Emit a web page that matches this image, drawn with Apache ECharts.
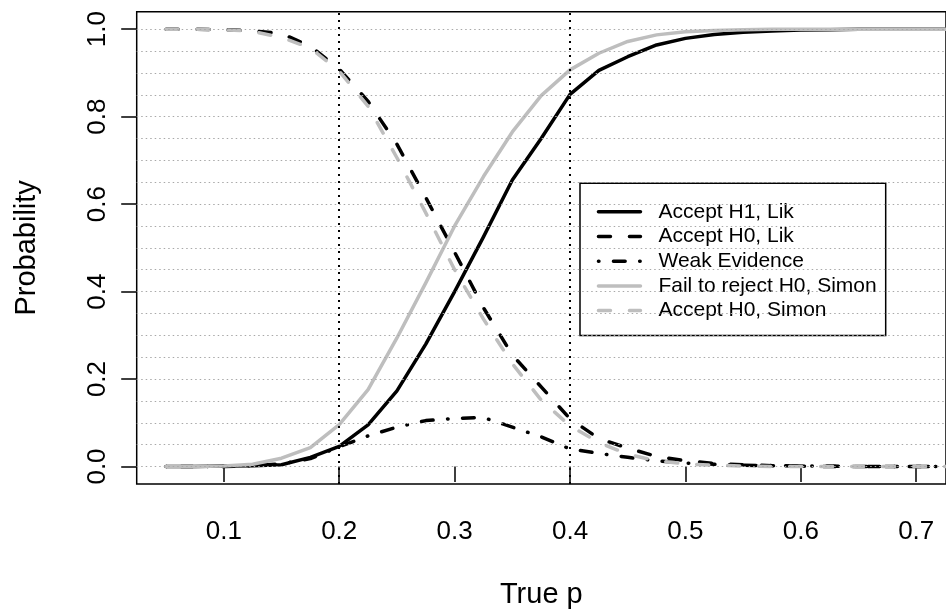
<!DOCTYPE html>
<html>
<head>
<meta charset="utf-8">
<title>Operating characteristics</title>
<script src="https://cdn.jsdelivr.net/npm/echarts@6/dist/echarts.min.js"></script>
<style>
  html, body { margin: 0; padding: 0; background: #fff; }
  #main { width: 946px; height: 614px; }
</style>
</head>
<body>
<div id="main"></div>
<script>
// true p values (every 0.025)
const pValues = [0.05, 0.075, 0.1, 0.125, 0.15, 0.175, 0.2, 0.225, 0.25, 0.275, 0.3, 0.325, 0.35, 0.375,
  0.4, 0.425, 0.45, 0.475, 0.5, 0.525, 0.55, 0.575, 0.6, 0.625, 0.65, 0.675, 0.7, 0.725, 0.75]

const acceptH1Lik = [0, 0, 0.001, 0.002, 0.004, 0.021, 0.046, 0.095, 0.173, 0.28, 0.4, 0.525, 0.655, 0.75,
  0.851, 0.906, 0.937, 0.964, 0.979, 0.988, 0.993, 0.996, 0.998, 0.999, 1, 1, 1, 1, 1]
const acceptH0Lik = [1, 1, 0.999, 0.996, 0.99, 0.961, 0.909, 0.835, 0.737, 0.615, 0.49, 0.363, 0.255, 0.182,
  0.109, 0.064, 0.042, 0.023, 0.013, 0.007, 0.004, 0.002, 0.001, 0, 0, 0, 0, 0, 0]
const weakEvidence = [0, 0, 0, 0.002, 0.006, 0.018, 0.045, 0.07, 0.09, 0.105, 0.11, 0.112, 0.09, 0.068,
  0.04, 0.03, 0.021, 0.013, 0.008, 0.005, 0.003, 0.002, 0.001, 0.001, 0, 0, 0, 0, 0]
const failRejectSimon = [0, 0, 0.001, 0.005, 0.019, 0.043, 0.096, 0.176, 0.294, 0.42, 0.55, 0.663, 0.765, 0.848,
  0.907, 0.945, 0.972, 0.987, 0.994, 0.997, 0.999, 1, 1, 1, 1, 1, 1, 1, 1]
const acceptH0Simon = [1, 1, 0.999, 0.995, 0.981, 0.957, 0.904, 0.824, 0.706, 0.58, 0.45, 0.337, 0.235, 0.152,
  0.093, 0.055, 0.028, 0.013, 0.006, 0.003, 0.001, 0, 0, 0, 0, 0, 0, 0, 0]

const xTicks = [0.1, 0.2, 0.3, 0.4, 0.5, 0.6, 0.7]
const yTicks = [0, 0.2, 0.4, 0.6, 0.8, 1.0]
const gridLevels = [0, 0.05, 0.1, 0.15, 0.2, 0.25, 0.3, 0.35, 0.4, 0.45, 0.5, 0.55, 0.6, 0.65, 0.7, 0.75,
  0.8, 0.85, 0.9, 0.95, 1.0]
const refLines = [0.2, 0.4]

const seriesNames = ['Accept H1, Lik', 'Accept H0, Lik', 'Weak Evidence', 'Fail to reject H0, Simon', 'Accept H0, Simon']

const font = '"Liberation Sans", Arial, Helvetica, sans-serif'
const grey = '#bebebe'

function pairs(ys) {
  return pValues.map((p, i) => [p, ys[i]])
}

function curve(name, ys, color, type) {
  return {
    name: name,
    type: 'line',
    data: pairs(ys),
    symbol: 'none',
    z: 3,
    silent: true,
    lineStyle: {color: color, width: 3.5, type: type, cap: 'round', join: 'round'},
    itemStyle: {color: color}
  }
}

const chartDom = document.getElementById('main')
const myChart = echarts.init(chartDom, null, {renderer: 'canvas'})

let option = {
  animation: false,
  backgroundColor: '#fff',
  textStyle: {fontFamily: font},
  grid: {
    left: 136.7,
    top: 11.7,
    width: 811.3,
    height: 475,
    show: true,
    borderColor: '#000',
    borderWidth: 1.5,
    backgroundColor: 'transparent'
  },
  legend: {
    orient: 'vertical',
    left: 580,
    top: 183.3,
    data: seriesNames,
    backgroundColor: '#fff',
    borderColor: '#000',
    borderWidth: 1.5,
    borderRadius: 0,
    padding: [18, 9, 14.5, 16.7],
    itemWidth: 42,
    itemHeight: 21,
    itemGap: 3.7,
    itemStyle: {opacity: 0},
    lineStyle: {width: 3.5, cap: 'round'},
    selectedMode: false,
    textStyle: {fontSize: 21, color: '#000', fontFamily: font, padding: [0, 0, 0, 13]}
  },
  xAxis: {
    type: 'value',
    min: 0.0245,
    max: 0.7258,
    name: 'True p',
    nameLocation: 'middle',
    nameGap: 96,
    nameTextStyle: {fontSize: 29, color: '#000', fontFamily: font},
    axisLine: {show: false},
    axisTick: {show: true, length: 15.5, lineStyle: {color: '#000', width: 1.5}, customValues: xTicks},
    axisLabel: {
      fontSize: 26, color: '#000', margin: 35, fontFamily: font,
      customValues: xTicks,
      formatter: v => v.toFixed(1)
    },
    splitLine: {show: false}
  },
  yAxis: {
    type: 'value',
    min: -0.04,
    max: 1.04,
    name: 'Probability',
    nameLocation: 'middle',
    nameRotate: 90,
    nameGap: 95,
    nameTextStyle: {fontSize: 29, color: '#000', fontFamily: font},
    axisLine: {show: false},
    axisTick: {show: true, length: 15.5, lineStyle: {color: '#000', width: 1.5}, customValues: yTicks},
    axisLabel: {
      fontSize: 26, color: '#000', margin: 26, rotate: 90, fontFamily: font,
      customValues: yTicks,
      formatter: v => v.toFixed(1)
    },
    splitLine: {show: false}
  },
  series: [
    {
      name: 'guides',
      type: 'line',
      data: pairs(acceptH1Lik),
      symbol: 'none',
      z: 1,
      silent: true,
      lineStyle: {opacity: 0},
      markLine: {
        silent: true,
        symbol: 'none',
        animation: false,
        label: {show: false},
        emphasis: {disabled: true},
        data: gridLevels.map(v => ({yAxis: v, lineStyle: {color: '#a8a8a8', width: 1.2, type: [1.5, 3]}}))
          .concat(refLines.map(v => ({xAxis: v, lineStyle: {color: '#000', width: 2, type: [2, 5]}})))
      }
    },
    curve(seriesNames[0], acceptH1Lik, '#000', 'solid'),
    curve(seriesNames[1], acceptH0Lik, '#000', [12, 19]),
    curve(seriesNames[2], weakEvidence, '#000', [0.5, 14.5, 11.7, 14.5]),
    curve(seriesNames[3], failRejectSimon, grey, 'solid'),
    curve(seriesNames[4], acceptH0Simon, grey, [12, 19])
  ]
}

option && myChart.setOption(option)
</script>
</body>
</html>
